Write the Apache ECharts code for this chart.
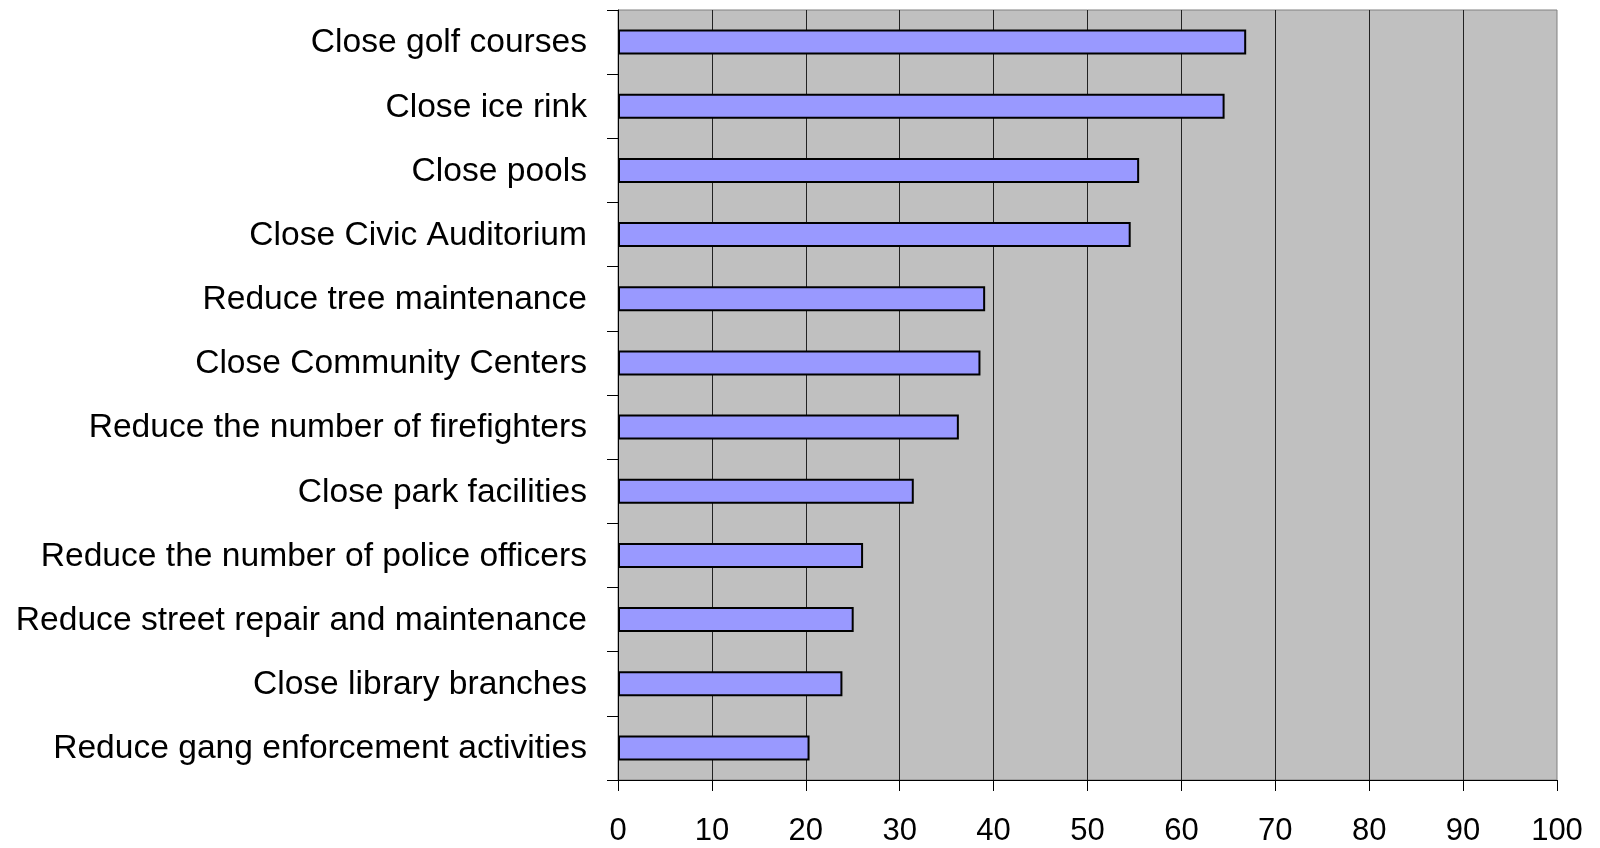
<!DOCTYPE html>
<html>
<head>
<meta charset="utf-8">
<title>Budget reduction options</title>
<script src="https://cdn.jsdelivr.net/npm/echarts@6/dist/echarts.min.js"></script>
<style>
    html, body { margin: 0; padding: 0; background: #fff; }
    #main { width: 1600px; height: 848px; }
</style>
</head>
<body>
<div id="main"></div>
<script>
// 类目（从上到下）
const categories = [
    'Close golf courses',
    'Close ice rink',
    'Close pools',
    'Close Civic Auditorium',
    'Reduce tree maintenance',
    'Close Community Centers',
    'Reduce the number of firefighters',
    'Close park facilities',
    'Reduce the number of police officers',
    'Reduce street repair and maintenance',
    'Close library branches',
    'Reduce gang enforcement activities'
];
const values = [66.9, 64.6, 55.5, 54.6, 39.1, 38.6, 36.3, 31.5, 26.1, 25.1, 23.9, 20.4];
const xTicks = [0, 10, 20, 30, 40, 50, 60, 70, 80, 90, 100];

const myChart = echarts.init(document.getElementById('main'));
const font = 'Liberation Sans, Arial, sans-serif';

const option = {
    animation: false,
    grid: {
        left: 618,
        right: 43,
        top: 10,
        bottom: 68,
        outerBoundsMode: 'none',
        containLabel: false,
        show: true,
        backgroundColor: '#C0C0C0',
        borderColor: '#808080',
        borderWidth: 1
    },
    xAxis: {
        type: 'value',
        min: xTicks[0],
        max: xTicks[xTicks.length - 1],
        interval: 10,
        axisLine: { show: true, lineStyle: { color: '#000', width: 1 } },
        axisTick: { show: true, inside: false, length: 11, lineStyle: { color: '#000' } },
        axisLabel: {
            margin: 36,
            fontSize: 31,
            fontFamily: font,
            color: '#000'
        },
        splitLine: {
            show: true,
            showMinLine: false,
            showMaxLine: false,
            lineStyle: { color: '#222', width: 1 }
        }
    },
    yAxis: {
        type: 'category',
        data: categories,
        inverse: true,
        axisLine: { show: true, lineStyle: { color: '#000', width: 1 } },
        axisTick: { show: true, inside: false, length: 11, lineStyle: { color: '#000' } },
        axisLabel: {
            margin: 31,
            fontSize: 33.6,
            fontFamily: font,
            color: '#000',
            verticalAlign: 'top',
            lineHeight: 2
        },
        splitLine: { show: false }
    },
    series: [
        {
            type: 'bar',
            data: values,
            barWidth: 25,
            itemStyle: {
                color: '#9999FF',
                borderColor: '#000',
                borderWidth: 2
            }
        }
    ]
};
myChart.setOption(option);
</script>
</body>
</html>
